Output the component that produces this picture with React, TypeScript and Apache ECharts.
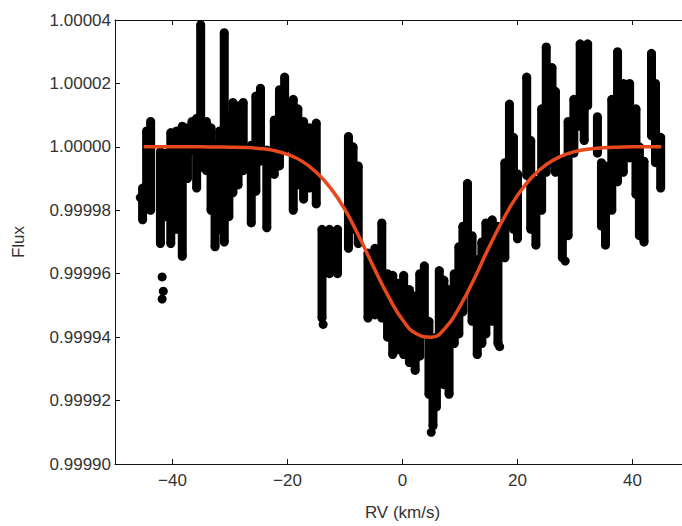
import React, { useEffect, useRef } from "react";
import * as echarts from "echarts";

// RV axis (km/s)
const xTicks = [-40, -20, 0, 20, 40];
// Flux ticks
const yTicks = [0.9999, 0.99992, 0.99994, 0.99996, 0.99998, 1.0, 1.00002, 1.00004];

// Dense columns of measured points: RV (km/s), top and bottom flux offset (units of 1e-5 relative to 1)
const stripX = [
  -45.2, -44.5, -43.8, -42.1, -41.2, -40.3, -39.3, -38.3, -37.4, -36.6,
  -35.8, -35.1, -34.1, -33.3, -32.6, -31.8, -31.0, -30.2, -29.5, -28.6,
  -27.7, -26.3, -25.5, -24.7, -23.6, -22.3, -21.4, -20.5, -19.0, -18.2,
  -17.2, -16.2, -15.0, -14.0, -12.7, -11.3, -9.4, -8.6, -7.7, -6.0,
  -4.8, -3.6, -2.6, -1.7, -0.8, 0.2, 1.2, 2.2, 3.0, 3.8,
  4.6, 5.3, 5.9, 6.4, 7.2, 8.1, 9.0, 9.8, 10.5, 11.3,
  12.1, 13.0, 13.8, 14.5, 15.6, 16.6, 17.8, 18.6, 19.3, 20.0,
  21.6, 22.3, 23.2, 24.2, 25.0, 26.0, 26.6, 27.8, 28.8, 29.8,
  30.9, 31.6, 32.2, 33.9, 34.6, 35.3, 36.4, 37.4, 38.4, 39.5,
  40.6, 41.2, 42.0, 43.3, 44.0, 44.9,
];
const stripTop = [
  -1.3, 0.5, 0.8, -0.15, -0.2, 0.45, 0.5, 0.65, 0.6, 0.8,
  0.9, 3.85, 0.8, 0.6, 0.05, 0.5, 3.6, 1.0, 1.4, 1.3,
  1.4, 0.05, 1.6, 1.85, -0.1, 0.85, 1.8, 2.2, 1.5, 1.2,
  0.8, 0.6, 0.75, -2.6, -2.6, -2.6, 0.33, 0.0, -0.6, -3.35,
  -3.2, -2.4, -4.0, -4.05, -4.3, -4.05, -4.5, -4.7, -4.0, -3.75,
  -5.5, -6.15, -6.0, -3.9, -4.2, -4.5, -4.0, -3.15, -2.5, -1.15,
  -2.8, -3.55, -3.0, -2.4, -2.3, -2.5, -0.5, 1.35, 0.3, -0.85,
  2.2, 0.2, -1.05, 1.2, 3.15, 2.5, 1.75, -0.45, 0.8, 1.5,
  3.25, 2.5, 3.25, 0.95, -0.5, -0.6, 1.5, 3.0, 2.0, 2.0,
  1.2, 0.0, -0.45, 2.95, 2.0, 0.3,
];
const stripBottom = [
  -2.3, -1.5, -2.0, -3.05, -2.2, -3.05, -2.6, -3.45, -1.0, -0.1,
  -1.3, -0.65, -0.75, -2.0, -3.15, -2.6, -3.0, -2.2, -1.45, -1.2,
  -0.75, -2.4, -1.4, -0.45, -2.55, -0.87, -0.6, -0.1, -2.0, -1.2,
  -1.65, -1.3, -1.8, -5.4, -4.0, -4.0, -3.2, -2.6, -3.05, -5.4,
  -5.3, -5.4, -6.0, -6.55, -6.4, -6.55, -6.8, -7.05, -6.6, -5.9,
  -7.8, -8.8, -8.2, -6.95, -7.5, -7.8, -6.2, -5.9, -5.2, -4.45,
  -5.5, -6.55, -6.2, -5.9, -5.5, -6.2, -3.5, -1.6, -2.6, -2.9,
  -0.9, -2.6, -3.1, -2.0, -0.8, -0.5, -0.8, -3.5, -2.8, -0.2,
  0.65, 0.2, 1.3, -0.2, -2.5, -3.1, -2.0, -1.1, -0.8, -0.35,
  -1.5, -2.8, -3.0, 0.35, -0.5, -1.3,
];

// Isolated points: RV (km/s) and flux offset (1e-5)
const dotX = [-41.8, -41.6, -41.8, -45.6, -44.9, -13.8, 5.0, 16.9, 28.3];
const dotY = [-4.1, -4.55, -4.8, -1.6, -2.0, -5.6, -9.0, -6.3, -3.6];

// Fitted profile: RV (km/s) and flux offset (1e-5)
const lineX = [
  -45, -42.5, -40, -37.5, -35, -32.5, -30, -27.5, -25, -22.5, -20, -17.5, -15,
  -12.5, -10, -7.5, -5, -2.5, 0, 2.5, 5, 7.5, 10, 12.5, 15, 17.5, 20, 22.5, 25,
  27.5, 30, 32.5, 35, 37.5, 40, 42.5, 45,
];
const lineY = [
  0, 0, 0, 0, 0, -0.005, -0.01, -0.02, -0.05, -0.11, -0.24, -0.45, -0.8,
  -1.3, -1.98, -2.85, -3.8, -4.7, -5.45, -5.9, -6.0, -5.7, -5.02, -4.15, -3.18,
  -2.29, -1.53, -0.96, -0.56, -0.3, -0.15, -0.07, -0.03, -0.01, 0, 0, 0,
];

const toFlux = (d: number) => 1 + d * 1e-5;

const FONT = "Liberation Sans";
const DOT = 9;

export default function App() {
  const ref = useRef<HTMLDivElement>(null);
  useEffect(() => {
    if (!ref.current) return;
    const chart = echarts.init(ref.current, undefined, { renderer: "svg" });
    const strips = stripX.map((x, i) => [x, toFlux(stripTop[i]), toFlux(stripBottom[i])]);
    const dots = dotX.map((x, i) => [x, toFlux(dotY[i])]);
    const line = lineX.map((x, i) => [x, toFlux(lineY[i])]);
    const fmtX = (v: number) => (v < 0 ? "\u2212" + Math.abs(v) : String(v));
    chart.setOption({
      animation: false,
      backgroundColor: "#fff",
      grid: { left: 115, top: 20, bottom: 60, right: 0, containLabel: false },
      xAxis: [
        {
          type: "value",
          min: -50,
          max: 50,
          name: "RV (km/s)",
          nameLocation: "middle",
          nameGap: 40,
          nameTextStyle: { fontFamily: FONT, fontSize: 17, color: "#333" },
          axisLine: { show: true, onZero: false, lineStyle: { color: "#111", width: 1 } },
          axisTick: { show: true, inside: true, length: 5, customValues: xTicks, lineStyle: { color: "#111" } },
          axisLabel: {
            customValues: xTicks,
            formatter: fmtX,
            fontFamily: FONT,
            fontSize: 17,
            color: "#333",
            margin: 8,
          },
          splitLine: { show: false },
        },
        {
          type: "value",
          position: "top",
          min: -50,
          max: 50,
          axisLine: { show: true, onZero: false, lineStyle: { color: "#111", width: 1 } },
          axisTick: { show: true, inside: true, length: 5, customValues: xTicks, lineStyle: { color: "#111" } },
          axisLabel: { show: false },
          splitLine: { show: false },
        },
      ],
      yAxis: [
        {
          type: "value",
          min: 0.9999,
          max: 1.00004,
          name: "Flux",
          nameLocation: "middle",
          nameGap: 88,
          nameTextStyle: { fontFamily: FONT, fontSize: 17, color: "#333" },
          axisLine: { show: true, onZero: false, lineStyle: { color: "#111", width: 1 } },
          axisTick: { show: true, inside: true, length: 5, customValues: yTicks, lineStyle: { color: "#111" } },
          axisLabel: {
            customValues: yTicks,
            formatter: (v: number) => v.toFixed(5),
            fontFamily: FONT,
            fontSize: 17,
            color: "#333",
            margin: 4,
          },
          splitLine: { show: false },
        },
        {
          type: "value",
          position: "right",
          min: 0.9999,
          max: 1.00004,
          axisLine: { show: true, onZero: false, lineStyle: { color: "#111", width: 1 } },
          axisTick: { show: false },
          axisLabel: { show: false },
          splitLine: { show: false },
        },
      ],
      series: [
        {
          type: "custom",
          xAxisIndex: 0,
          yAxisIndex: 0,
          encode: { x: 0, y: [1, 2] },
          data: strips,
          renderItem: (params: any, api: any) => {
            const p1 = api.coord([api.value(0), api.value(1)]);
            const p2 = api.coord([api.value(0), api.value(2)]);
            return {
              type: "group",
              children: [
                {
                  type: "line",
                  shape: { x1: p1[0], y1: p1[1], x2: p2[0], y2: p2[1] },
                  style: { stroke: "#000", lineWidth: DOT },
                },
                { type: "circle", shape: { cx: p1[0], cy: p1[1], r: DOT / 2 }, style: { fill: "#000" } },
                { type: "circle", shape: { cx: p2[0], cy: p2[1], r: DOT / 2 }, style: { fill: "#000" } },
              ],
            };
          },
          z: 2,
        },
        {
          type: "scatter",
          xAxisIndex: 0,
          yAxisIndex: 0,
          data: dots,
          symbol: "circle",
          symbolSize: DOT,
          itemStyle: { color: "#000", opacity: 1 },
          z: 2,
        },
        {
          type: "line",
          xAxisIndex: 0,
          yAxisIndex: 0,
          data: line,
          smooth: true,
          showSymbol: false,
          lineStyle: { color: "#e8481c", width: 3.5 },
          z: 5,
        },
      ],
    });
    return () => chart.dispose();
  }, []);
  return (
    <div style={{ position: "fixed", left: 0, top: 0, width: 682, height: 526, overflow: "hidden", background: "#fff" }}>
      <div ref={ref} style={{ width: 690, height: 526 }} />
    </div>
  );
}
